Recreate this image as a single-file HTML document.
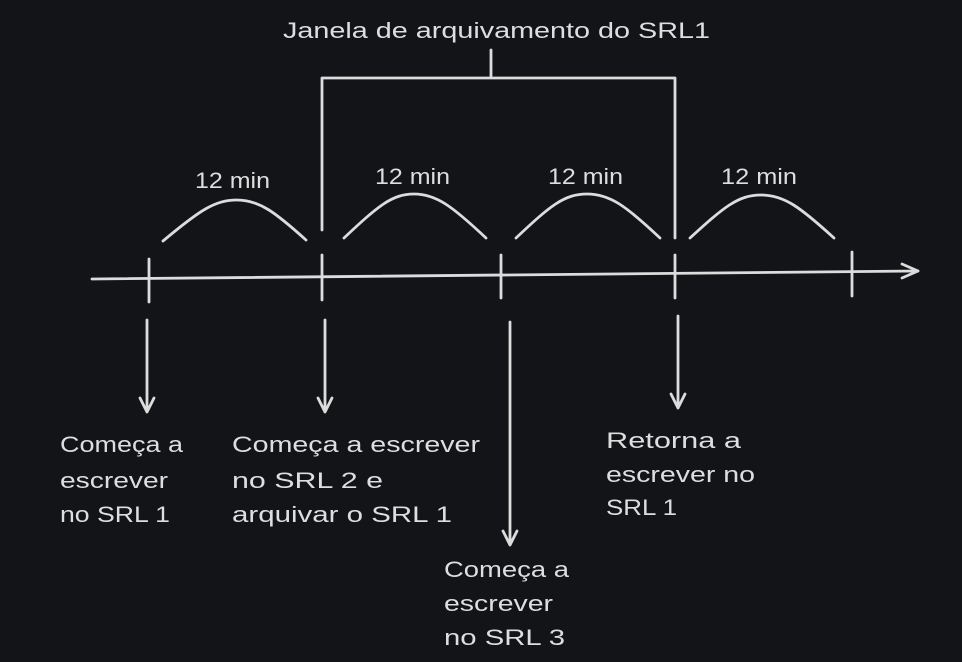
<!DOCTYPE html>
<html><head><meta charset="utf-8"><style>
html,body{margin:0;padding:0;background:#121417;}
svg{display:block}
text{font-family:"Liberation Sans",sans-serif;fill:#dedede;font-size:22px;}
</style></head><body>
<svg width="962" height="662" viewBox="0 0 962 662">
<rect width="962" height="662" fill="#121417"/>
<g stroke="#dcdcdc" stroke-width="2.8" fill="none" stroke-linecap="round" stroke-linejoin="round">
<path d="M92 279 L918 271"/>
<path d="M902 264 L918 271 L902 278"/>
<path d="M149 259 V302 M322 255 V300 M501 255 V298 M675 255 V298 M852 252 V296"/>
<path d="M163 241 C200 210 215 200 237 200 C259 200 275 212 306 240"/>
<path d="M344 238 C378 206 392 194 414 194 C436 194 452 206 486 238"/>
<path d="M516 238 C550 206 564 194 587 194 C610 194 626 206 660 238"/>
<path d="M690 238 C724 207 738 195 761 195 C784 195 800 207 834 238"/>
<path d="M322 230 V78 H675 V238 M491 50 V78"/>
<path d="M147 320 V412 M140 398 L147 412 L154 398"/>
<path d="M325 320 V412 M318 398 L325 412 L332 398"/>
<path d="M510 322 V545 M503 531 L510 545 L517 531"/>
<path d="M678 316 V408 M671 394 L678 408 L685 394"/>
</g>
<text x="283" y="38" font-size="24" textLength="427" lengthAdjust="spacingAndGlyphs">Janela de arquivamento do SRL1</text>
<text x="195" y="188" font-size="20" textLength="75" lengthAdjust="spacingAndGlyphs">12 min</text>
<text x="375" y="184" font-size="20" textLength="75" lengthAdjust="spacingAndGlyphs">12 min</text>
<text x="548" y="184" font-size="20" textLength="75" lengthAdjust="spacingAndGlyphs">12 min</text>
<text x="721" y="184" font-size="20" textLength="76" lengthAdjust="spacingAndGlyphs">12 min</text>

<text x="60" y="452" textLength="123" lengthAdjust="spacingAndGlyphs">Começa a</text>
<text x="60" y="488" textLength="108" lengthAdjust="spacingAndGlyphs">escrever</text>
<text x="60" y="522" textLength="110" lengthAdjust="spacingAndGlyphs">no SRL 1</text>

<text x="232" y="452" textLength="248" lengthAdjust="spacingAndGlyphs">Começa a escrever</text>
<text x="232" y="488" textLength="151" lengthAdjust="spacingAndGlyphs">no SRL 2 e</text>
<text x="232" y="522" textLength="220" lengthAdjust="spacingAndGlyphs">arquivar o SRL 1</text>

<text x="444" y="577" textLength="125" lengthAdjust="spacingAndGlyphs">Começa a</text>
<text x="444" y="611" textLength="109" lengthAdjust="spacingAndGlyphs">escrever</text>
<text x="444" y="645" textLength="121" lengthAdjust="spacingAndGlyphs">no SRL 3</text>

<text x="606" y="448" textLength="135" lengthAdjust="spacingAndGlyphs">Retorna a</text>
<text x="606" y="482" textLength="149" lengthAdjust="spacingAndGlyphs">escrever no</text>
<text x="606" y="515" textLength="71" lengthAdjust="spacingAndGlyphs">SRL 1</text>
</svg>
</body></html>
